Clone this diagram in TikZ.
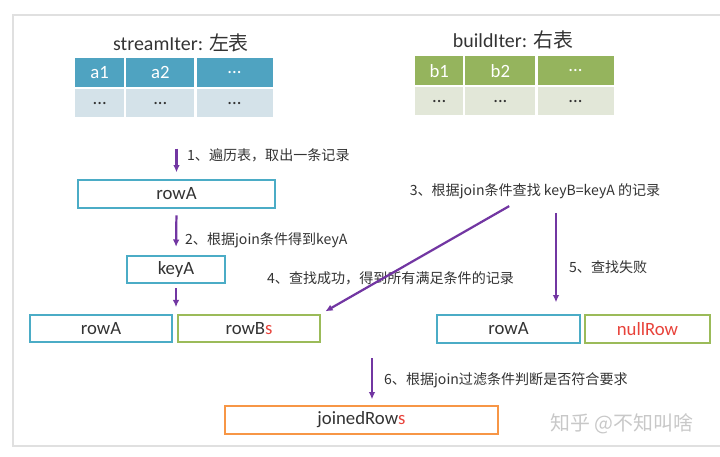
\documentclass[tikz,border=0pt]{standalone}
\usepackage{fontspec}
\setmainfont{Carlito}
\newfontfamily\cjk{Noto Sans CJK SC}
\usetikzlibrary{positioning,arrows.meta}
\definecolor{CTeal}{HTML}{4BACC6}
\definecolor{CTealHead}{HTML}{4FA3C1}
\definecolor{CTealRow}{HTML}{D4E2E9}
\definecolor{COlive}{HTML}{9BBB59}
\definecolor{COliveHead}{HTML}{95B45D}
\definecolor{COliveRow}{HTML}{E2E7D8}
\definecolor{COrange}{HTML}{F79646}
\definecolor{CPurple}{HTML}{7236A2}
\definecolor{CRed}{HTML}{E8423A}
\definecolor{CInk}{HTML}{333333}
\definecolor{CFrame}{HTML}{E0E0E0}
\definecolor{CMark}{HTML}{C8C8C8}

\begin{document}
\begin{tikzpicture}[x=0.3mm, y=-0.3mm,
  every node/.style={font=\fontsize{16}{19}\selectfont, text=CInk},
  head/.style={fill=#1, text=white, inner sep=0pt, minimum height=8.6mm},
  cell/.style={fill=#1, inner sep=0pt, minimum height=8.5mm},
  box/.style={draw=#1, line width=1.7pt, fill=white, inner sep=0pt, minimum height=8.2mm},
  lbl/.style={font=\cjk\fontsize{12}{14}\selectfont, anchor=west},
  title/.style={font=\fontsize{17}{20}\selectfont},
  arrow/.style={-{Latex[length=2.2mm,width=2mm]}, draw=CPurple, line width=1.9pt}]
\useasboundingbox (0,0) rectangle (720,456);
\draw[CFrame, line width=1pt] (720,15) -- (13,15) -- (13,446) -- (720,446);
% left table
\node[title] (stitle) at (181,43) {streamIter: {\cjk 左表}};
\node[head=CTealHead, minimum width=14.7mm, anchor=north west] (sa1) at (75,58) {a1};
\node[head=CTealHead, minimum width=20.4mm, right=0.5mm of sa1] (sa2) {a2};
\node[head=CTealHead, minimum width=22.8mm, right=0.5mm of sa2] (sa3) {...};
\node[cell=CTealRow, minimum width=14.7mm, below=0.5mm of sa1] (sd1) {...};
\node[cell=CTealRow, minimum width=20.4mm, below=0.5mm of sa2] (sd2) {...};
\node[cell=CTealRow, minimum width=22.8mm, below=0.5mm of sa3] (sd3) {...};
% right table
\node[title] (btitle) at (513,40) {buildIter: {\cjk 右表}};
\node[head=COliveHead, minimum width=14.4mm, anchor=north west] (bb1) at (415,56) {b1};
\node[head=COliveHead, minimum width=21.0mm, right=0.5mm of bb1] (bb2) {b2};
\node[head=COliveHead, minimum width=22.8mm, right=0.5mm of bb2] (bb3) {...};
\node[cell=COliveRow, minimum width=14.4mm, below=0.5mm of bb1] (bd1) {...};
\node[cell=COliveRow, minimum width=21.0mm, below=0.5mm of bb2] (bd2) {...};
\node[cell=COliveRow, minimum width=22.8mm, below=0.5mm of bb3] (bd3) {...};
% rows
\node[box=CTeal, minimum width=59.1mm] (rowA) at (176.5,194) {rowA};
\node[box=CTeal, minimum width=29.4mm] (keyA) at (176,269.5) {keyA};
\node[box=CTeal, minimum width=42.6mm] (rowL) at (101,328.5) {rowA};
\node[box=COlive, minimum width=42.6mm, right=1.2mm of rowL] (rowBs) {rowB\textcolor{CRed}{s}};
\node[box=CTeal, minimum width=42.9mm] (rowR) at (508.5,329) {rowA};
\node[box=COlive, minimum width=37.5mm, right=0.9mm of rowR, text=CRed] (nullRow) {nullRow};
\node[box=COrange, minimum width=81.9mm] (joined) at (361.5,420) {joinedRow\textcolor{CRed}{s}};
% labels
\node[lbl] (l1) at (183,155) {1、遍历表，取出一条记录};
\node[lbl] (l2) at (181,240) {2、根据join条件得到keyA};
\node[lbl, anchor=center] (l3) at (535,191) {3、根据join条件查找 keyB=keyA 的记录};
\node[lbl] (l4) at (263,278) {4、查找成功，得到所有满足条件的记录};
\node[lbl] (l5) at (565,267) {5、查找失败};
\node[lbl] (l6) at (380,380) {6、根据join过滤条件判断是否符合要求};
\node[font=\cjk\fontsize{17}{20}\selectfont, text=CMark, anchor=west] (mark) at (546,424) {知乎 @不知叫啥};
% arrows
\coordinate (split) at (372,352);
\draw[arrow, shorten <=9.3mm, shorten >=2.1mm] (sd2.south -| rowA.north) -- (rowA.north);
\draw[arrow, shorten <=2mm, shorten >=2.4mm] (rowA.south) -- (keyA.north);
\draw[arrow, shorten <=1.2mm, shorten >=2mm] (keyA.south) -- (keyA.south |- rowL.north);
\draw[arrow, shorten <=2mm, shorten >=1.5mm] ([xshift=-6mm]l3.south) -- (rowBs.north east);
\draw[arrow, shorten <=3mm, shorten >=3.6mm] ([xshift=6.3mm]l3.south) -- ([xshift=6.3mm]l3.south |- rowR.north);
\draw[arrow, shorten <=1.8mm, shorten >=1.8mm] (split) -- (split |- joined.north);
\end{tikzpicture}
\end{document}
